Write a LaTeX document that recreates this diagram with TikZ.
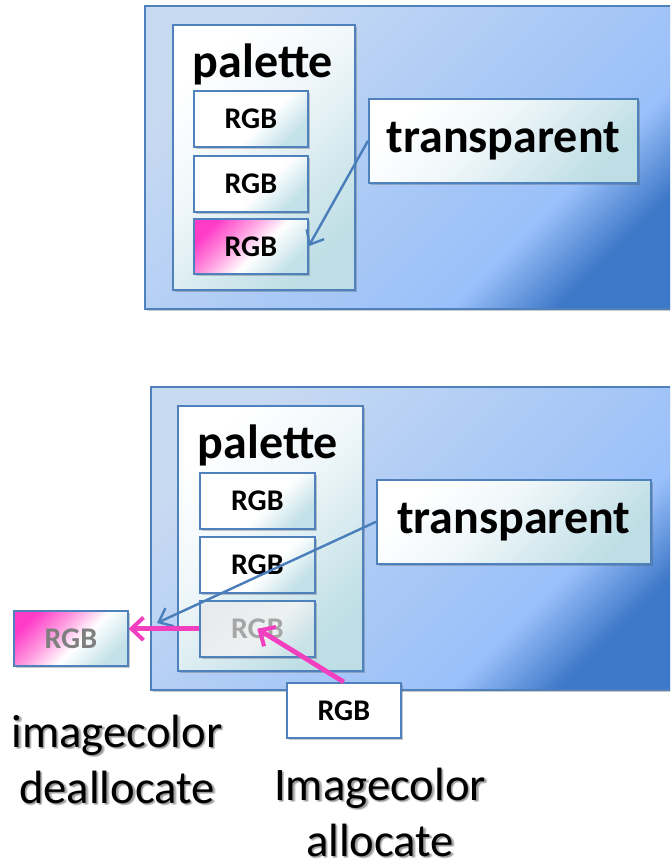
\documentclass[tikz,border=0pt]{standalone}
\usepackage{fontspec}
\setmainfont{Carlito}
\usetikzlibrary{shadows,arrows.meta}

\definecolor{bordblue}{HTML}{4F81BD}
\definecolor{arrowblue}{HTML}{4A7EBB}
\definecolor{magentaarrow}{HTML}{F23FBF}
\definecolor{fadedtext}{HTML}{A6A6A6}
\definecolor{greytext}{HTML}{7F7F7F}

\definecolor{panelLight}{RGB}{200,218,242}
\definecolor{panelMid}{RGB}{168,200,246}
\definecolor{panelMid2}{RGB}{154,192,250}
\definecolor{panelDark}{RGB}{62,120,200}
\definecolor{frameMid}{RGB}{240,247,250}
\definecolor{frameEnd}{RGB}{190,222,229}
\definecolor{entryEnd}{RGB}{194,225,232}
\definecolor{pinkStart}{RGB}{255,60,200}
\definecolor{pinkMid}{RGB}{255,150,222}
\definecolor{fadedStart}{RGB}{232,235,237}
\definecolor{fadedMid}{RGB}{238,241,242}
\definecolor{fadedEnd}{RGB}{200,226,231}

% panel background: light blue, darkening towards the lower right corner
\pgfdeclarehorizontalshading{panelshade}{100bp}{%
  color(0bp)=(panelLight); color(25bp)=(panelLight);
  color(52bp)=(panelMid); color(66bp)=(panelMid2);
  color(75bp)=(panelDark); color(100bp)=(panelDark)}
% palette frame / label boxes: white towards a pale cyan corner
\pgfdeclarehorizontalshading{frameshade}{100bp}{%
  color(0bp)=(white); color(25bp)=(white);
  color(45bp)=(frameMid);
  color(75bp)=(frameEnd); color(100bp)=(frameEnd)}
\pgfdeclarehorizontalshading{entryshade}{100bp}{%
  color(0bp)=(white); color(25bp)=(white);
  color(56bp)=(white);
  color(75bp)=(entryEnd); color(100bp)=(entryEnd)}
\pgfdeclarehorizontalshading{pinkshade}{100bp}{%
  color(0bp)=(pinkStart); color(25bp)=(pinkStart);
  color(40bp)=(pinkMid); color(55bp)=(white);
  color(75bp)=(entryEnd); color(100bp)=(entryEnd)}
\pgfdeclarehorizontalshading{fadedshade}{100bp}{%
  color(0bp)=(fadedStart); color(25bp)=(fadedStart);
  color(55bp)=(fadedMid);
  color(75bp)=(fadedEnd); color(100bp)=(fadedEnd)}

\tikzset{
  boxbase/.style={draw=bordblue, line width=1.2pt, inner sep=0pt,
    anchor=north west,
    drop shadow={shadow xshift=1.3pt, shadow yshift=-1.3pt, opacity=.3, fill=black!70}},
  diag/.style={shading=#1, shading angle=-45},
  panel/.style={boxbase, diag=panelshade},
  frame/.style={boxbase, diag=frameshade},
  entrybox/.style={boxbase, font=\fontsize{22.5pt}{26pt}\selectfont\bfseries},
  entry/.style={entrybox, diag=entryshade},
  pinkentry/.style={entrybox, diag=pinkshade, text=greytext},
  fadedentry/.style={entrybox, diag=fadedshade, text=fadedtext},
  plainentry/.style={entrybox, fill=white},
  bigbold/.style={inner sep=0pt, font=\fontsize{36pt}{42pt}\selectfont\bfseries},
  caption/.style={inner sep=0pt, align=center, anchor=base,
    font=\fontsize{35pt}{42pt}\selectfont},
  bluearrow/.style={draw=arrowblue, line width=1.8pt,
    -{Straight Barb[length=9pt, width=15pt, line width=1.8pt]}},
  pinkarrow/.style={draw=magentaarrow, line width=3.6pt,
    -{Straight Barb[length=9pt, width=17pt, line width=3pt]}},
}

\begin{document}
\begin{tikzpicture}[x=0.75pt, y=-0.75pt]
  \useasboundingbox (0,0) rectangle (670,866);
  \clip (0,0) rectangle (670,866);

  % ---------- upper panel ----------
  \node[panel, minimum width=536*0.75pt, minimum height=303*0.75pt] (panelA) at (144,5) {};
  \node[frame, minimum width=182*0.75pt, minimum height=265*0.75pt] (palA) at (172,24) {};
  \node[bigbold, anchor=base] (palAtitle) at (263,78) {palette};
  \node[entry, minimum width=114*0.75pt, minimum height=56*0.75pt] (rgbA1) at (193,90) {RGB};
  \node[entry, minimum width=114*0.75pt, minimum height=56*0.75pt] (rgbA2) at (193,155) {RGB};
  \node[pinkentry, text=black, minimum width=114*0.75pt, minimum height=55*0.75pt] (rgbA3) at (193,218) {RGB};
  \node[frame, bigbold, anchor=north west, minimum width=269*0.75pt, minimum height=84*0.75pt] (transA) at (368,98) {transparent};
  \draw[bluearrow] (transA.west) -- (rgbA3.east);

  % ---------- lower panel ----------
  \node[panel, minimum width=530*0.75pt, minimum height=303*0.75pt] (panelB) at (150,386) {};
  \node[frame, minimum width=185*0.75pt, minimum height=265*0.75pt] (palB) at (177,405) {};
  \node[bigbold, anchor=base] (palBtitle) at (268,458) {palette};
  \node[entry, minimum width=115*0.75pt, minimum height=56*0.75pt] (rgbB1) at (199,472) {RGB};
  \node[entry, minimum width=115*0.75pt, minimum height=56*0.75pt] (rgbB2) at (199,536) {RGB};
  \node[fadedentry, minimum width=115*0.75pt, minimum height=56*0.75pt] (rgbB3) at (199,600) {RGB};
  \node[frame, bigbold, anchor=north west, minimum width=274*0.75pt, minimum height=84*0.75pt] (transB) at (376,479) {transparent};

  % removed entry, outside the palette
  \node[pinkentry, minimum width=114*0.75pt, minimum height=55*0.75pt] (freed) at (13,610) {RGB};
  % new entry being allocated
  \node[plainentry, minimum width=114*0.75pt, minimum height=55*0.75pt] (newrgb) at (286,682) {RGB};

  \coordinate (transEnd) at (157,623);
  \draw[bluearrow] (transB.west) -- (transEnd);
  \draw[pinkarrow] (rgbB3.west) -- (rgbB3.west -| freed.east);
  \draw[pinkarrow] (newrgb.north) -- (rgbB3.center);

  % ---------- captions with a soft shadow (anchored at the last line) ----------
  \foreach \dx/\dy [count=\k] in {1.5/1.5, 2.5/2.5, 1/2.5, 2.5/1} {
    \node[caption, text=black, opacity=.12] (deallocShadow\k) at (117+\dx,803+\dy) {imagecolor\\deallocate};
    \node[caption, text=black, opacity=.12] (allocShadow\k) at (380+\dx,856+\dy) {Imagecolor\\allocate};
  }
  \node[caption] (dealloc) at (117,803) {imagecolor\\deallocate};
  \node[caption] (alloc) at (380,856) {Imagecolor\\allocate};
\end{tikzpicture}
\end{document}
